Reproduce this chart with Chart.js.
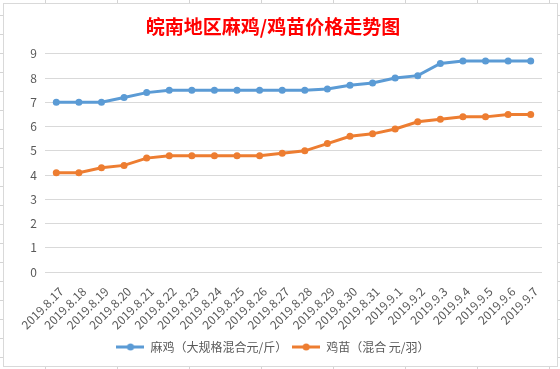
<!DOCTYPE html>
<html>
<head>
<meta charset="utf-8">
<script src="https://cdn.jsdelivr.net/npm/chart.js@4/dist/chart.umd.min.js"></script>
<style>
    html, body {
        margin: 0;
        padding: 0;
        width: 560px;
        height: 369px;
        overflow: hidden;
        background-color: #fff;
        background-image: linear-gradient(to right, #d4d4d4 1px, transparent 1px),
                          linear-gradient(to bottom, #d4d4d4 1px, transparent 1px);
        background-size: 72px 19px;
        background-position: 45px 15px;
    }
    .chart-box {
        position: absolute;
        left: 3px;
        top: 3px;
        width: 553px;
        height: 362px;
        border: 1px solid #d9d9d9;
        background: #fff;
    }
</style>
</head>
<body>
<div class="chart-box">
    <canvas id="priceChart" width="553" height="362"></canvas>
</div>
<script>
const dates = [
    '2019.8.17', '2019.8.18', '2019.8.19', '2019.8.20', '2019.8.21', '2019.8.22',
    '2019.8.23', '2019.8.24', '2019.8.25', '2019.8.26', '2019.8.27', '2019.8.28',
    '2019.8.29', '2019.8.30', '2019.8.31', '2019.9.1', '2019.9.2', '2019.9.3',
    '2019.9.4', '2019.9.5', '2019.9.6', '2019.9.7'
];
const henPrice = [7, 7, 7, 7.2, 7.4, 7.5, 7.5, 7.5, 7.5, 7.5, 7.5, 7.5, 7.55, 7.7, 7.8, 8.0, 8.1, 8.6, 8.7, 8.7, 8.7, 8.7];
const chickPrice = [4.1, 4.1, 4.3, 4.4, 4.7, 4.8, 4.8, 4.8, 4.8, 4.8, 4.9, 5.0, 5.3, 5.6, 5.7, 5.9, 6.2, 6.3, 6.4, 6.4, 6.5, 6.5];
const seriesNames = ['麻鸡（大规格混合元/斤）', '鸡苗（混合 元/羽）'];
const seriesColors = ['#5B9BD5', '#ED7D31'];
const yTicks = [0, 9, 1];

// small "line with dot" marker like Excel legends
function legendMarker(color) {
    const c = document.createElement('canvas');
    c.width = 28;
    c.height = 10;
    const g = c.getContext('2d');
    g.strokeStyle = color;
    g.lineWidth = 3;
    g.beginPath();
    g.moveTo(0, 5);
    g.lineTo(28, 5);
    g.stroke();
    g.fillStyle = color;
    g.beginPath();
    g.arc(14, 5, 3.5, 0, Math.PI * 2);
    g.fill();
    return c;
}

const markers = seriesColors.map(legendMarker);

Chart.defaults.font.family = '"Noto Sans CJK SC", "Noto Sans", sans-serif';
Chart.defaults.color = '#595959';

const ctx = document.getElementById('priceChart').getContext('2d');
new Chart(ctx, {
    type: 'line',
    data: {
        labels: dates,
        datasets: [henPrice, chickPrice].map((values, i) => ({
            label: seriesNames[i],
            data: values,
            borderColor: seriesColors[i],
            backgroundColor: seriesColors[i],
            borderWidth: 3,
            pointRadius: 3.5,
            pointHoverRadius: 3.5,
            pointBorderWidth: 0,
            tension: 0,
            fill: false
        }))
    },
    options: {
        responsive: false,
        animation: false,
        layout: {
            padding: { left: 0, right: 15, top: 0, bottom: 3 }
        },
        plugins: {
            title: {
                display: true,
                text: '皖南地区麻鸡/鸡苗价格走势图',
                color: '#FF0000',
                font: { size: 19, weight: 'bold' },
                padding: { top: 11, bottom: 16 }
            },
            legend: {
                position: 'bottom',
                labels: {
                    usePointStyle: true,
                    pointStyleWidth: 28,
                    padding: 5,
                    color: '#595959',
                    font: { size: 12 },
                    generateLabels: function(chart) {
                        const items = Chart.defaults.plugins.legend.labels.generateLabels(chart);
                        items.forEach((item, i) => { item.pointStyle = markers[i]; });
                        return items;
                    }
                }
            },
            tooltip: { enabled: false }
        },
        scales: {
            x: {
                offset: true,
                grid: { display: false },
                border: { display: false },
                ticks: {
                    autoSkip: false,
                    maxRotation: 45,
                    minRotation: 45,
                    padding: 4,
                    labelOffset: 5,
                    color: '#595959',
                    font: { size: 12 }
                }
            },
            y: {
                min: yTicks[0],
                max: yTicks[1],
                afterFit: function(scale) { scale.width = 41; },
                ticks: {
                    stepSize: yTicks[2],
                    padding: 8,
                    color: '#595959',
                    font: { size: 12 }
                },
                grid: {
                    color: '#d9d9d9',
                    drawTicks: false
                },
                border: { display: false }
            }
        }
    }
});
</script>
</body>
</html>
